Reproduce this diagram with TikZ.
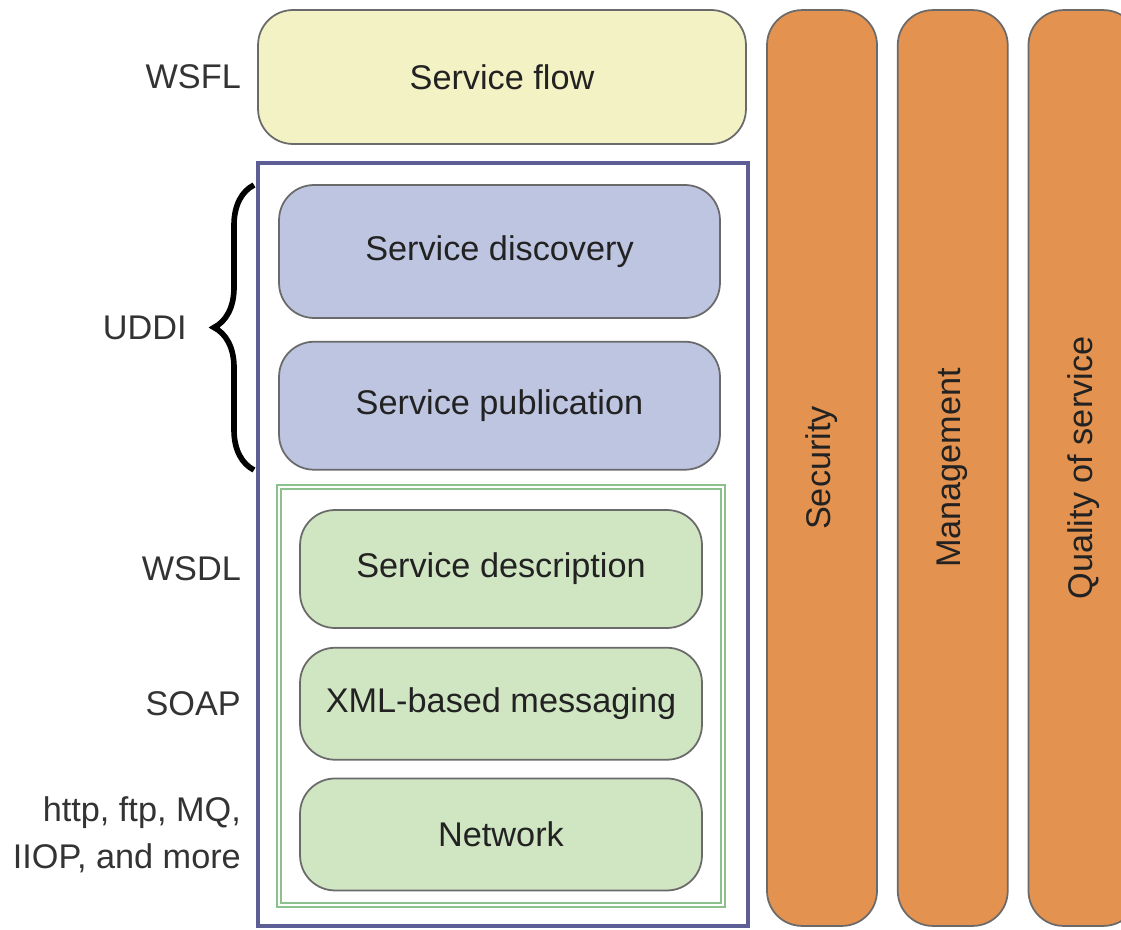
\documentclass[tikz,border=0pt]{standalone}
\usepackage{fontspec}
\setmainfont{Liberation Sans}
\usetikzlibrary{positioning,decorations.pathreplacing}

\definecolor{flowyellow}{HTML}{F2F2C4}
\definecolor{uddiblue}{HTML}{BEC5E1}
\definecolor{uddiframe}{HTML}{5E5E96}
\definecolor{wsdlgreen}{HTML}{D0E5C2}
\definecolor{wsdlframe}{HTML}{8CC08C}
\definecolor{pillarorange}{HTML}{E3924F}
\definecolor{boxgray}{HTML}{6A6A6A}
\definecolor{textdark}{HTML}{222222}
\definecolor{labelgray}{HTML}{333333}

\tikzset{
  layer/.style={draw=boxgray, line width=1pt, rounded corners=0.7cm,
    inner sep=0pt, text=textdark, font=\fontsize{19.5}{23}\selectfont},
  pillar/.style={layer, fill=pillarorange, minimum width=2.2cm,
    minimum height=18.32cm},
  proto/.style={text=labelgray, align=right, inner sep=0pt,
    font=\fontsize{19.5}{26.6}\selectfont},
}

\begin{document}
\begin{tikzpicture}[x=0.02cm, y=-0.02cm]

    \useasboundingbox (0,0) rectangle (1121,929);

    % Frames
    \node[draw=uddiframe, line width=1.8pt, inner sep=0pt,
          minimum width=9.8cm, minimum height=15.26cm] (uddi) at (503,544.5) {};
    \node[draw=wsdlframe, double=white, double distance=1.6pt, line width=0.9pt,
          inner sep=0pt, minimum width=8.88cm, minimum height=8.36cm] (wsdl) at (501,696) {};

    % Define nodes
    \node[layer, fill=flowyellow, minimum width=9.76cm, minimum height=2.68cm]
          (flow) at (502,77) {Service flow};
    \node[layer, fill=uddiblue, minimum width=8.82cm, minimum height=2.66cm]
          (disc) at (499.5,251.5) {Service discovery};
    \node[layer, fill=uddiblue, minimum width=8.82cm, minimum height=2.56cm,
          below=0.44cm of disc] (pub) {Service publication};
    \node[layer, fill=wsdlgreen, minimum width=8.04cm, minimum height=2.36cm]
          (desc) at (501,569) {Service description};
    \node[layer, fill=wsdlgreen, minimum width=8.04cm, minimum height=2.24cm,
          below=0.36cm of desc] (xml) {XML-based messaging};
    \node[layer, fill=wsdlgreen, minimum width=8.04cm, minimum height=2.24cm,
          below=0.34cm of xml] (net) {Network};

    \node[pillar] (sec) at (822,468) {\rotatebox{90}{Security}};
    \node[pillar, right=0.38cm of sec] (mgmt) {\rotatebox{90}{Management}};
    \node[pillar, right=0.38cm of mgmt] (qos) {\rotatebox{90}{Quality of service}};

    % Protocol labels
    \node[proto, left=0.32cm of flow] (wsfl) {WSFL};
    \node[proto, left=1.16cm of desc] (wsdllbl) {WSDL};
    \node[proto, left=1.16cm of xml]  (soap) {SOAP};
    \node[proto, left=1.16cm of net]  (transport) {http, ftp, MQ,\\IIOP, and more};

    % Brace
    \coordinate (bb) at (254,470);
    \coordinate (bt) at (254,185);
    \draw[line width=3.2pt, decorate, decoration={brace, amplitude=0.8cm}] (bb) -- (bt);
    \node[proto, anchor=east] (uddilbl) at (187,328) {UDDI};

  \end{tikzpicture}
\end{document}
